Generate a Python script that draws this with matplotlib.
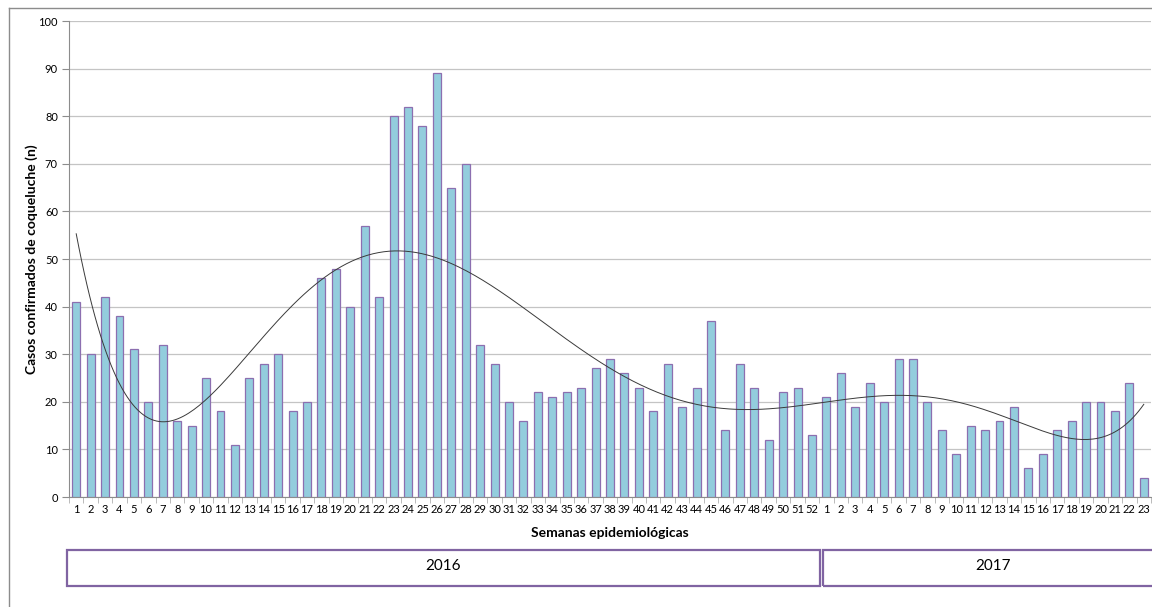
import numpy as np
import matplotlib
matplotlib.use('Agg')
from matplotlib import pyplot as plt
from matplotlib.lines import Line2D
from matplotlib.patches import Rectangle

plt.rcParams['font.family'] = ['Lato', 'DejaVu Sans']

# casos por semana epidemiológica: 2016 (1-52) y 2017 (1-23)
casos_2016 = [41, 30, 42, 38, 31, 20, 32, 16, 15, 25, 18, 11, 25, 28, 30, 18, 20,
              46, 48, 40, 57, 42, 80, 82, 78, 89, 65, 70, 32, 28, 20, 16, 22, 21,
              22, 23, 27, 29, 26, 23, 18, 28, 19, 23, 37, 14, 28, 23, 12, 22, 23, 13]
casos_2017 = [21, 26, 19, 24, 20, 29, 29, 20, 14, 9, 15, 14, 16, 19, 6, 9, 14,
              16, 20, 20, 18, 24, 4]
semanas_2016 = list(range(1, 53))
semanas_2017 = list(range(1, 24))
anios = ['2016', '2017']

casos = casos_2016 + casos_2017
etiquetas = [str(s) for s in semanas_2016 + semanas_2017]
x = np.arange(1, len(casos) + 1)

fig = plt.figure(figsize=(11.52, 6.07), dpi=100)
ax = fig.add_axes([69 / 1152, 110 / 607, 1082 / 1152, 476 / 607])

ax.bar(x, casos, width=0.55, color='#93cddd', edgecolor='#8c6fb0', linewidth=0.9, zorder=3)

# linea de tendencia polinómica (orden 6) como en Excel
coef = np.polyfit(x, casos, 6)
xs = np.linspace(1, len(casos), 400)
ax.plot(xs, np.polyval(coef, xs), color='#3a3a3a', linewidth=0.7, zorder=4)

ax.set_xlim(0.5, len(casos) + 0.5)
ax.set_ylim(0, 100)
ax.set_yticks(range(0, 101, 10))
ax.yaxis.grid(True, color='#c4c4c4', linewidth=0.9, zorder=0)
ax.tick_params(axis='y', labelsize=8, length=5, color='#8c8c8c', pad=3)

ax.set_xticks(x)
ax.set_xticklabels(etiquetas, fontsize=8)
ax.set_xticks(np.arange(0.5, len(casos) + 1, 1), minor=True)
ax.tick_params(axis='x', which='major', length=0, pad=5)
ax.tick_params(axis='x', which='minor', length=4, color='#b0b0b0')

for s in ['top', 'right']:
    ax.spines[s].set_visible(False)
ax.spines['left'].set_color('#8c8c8c')
ax.spines['bottom'].set_color('#8c8c8c')

ax.set_ylabel('Casos confirmados de coqueluche (n)', fontsize=10, fontweight='bold', labelpad=0)
fig.text(610 / 1152, 1 - 533 / 607, 'Semanas epidemiológicas', fontsize=10, fontweight='bold',
         ha='center', va='center')

# cajas de los años
cajas = [(67, 820), (823, 1163)]
for (x0, x1), anio in zip(cajas, anios):
    r = Rectangle((x0 / 1152, 1 - 586 / 607), (x1 - x0) / 1152, 36 / 607, transform=fig.transFigure,
                  fill=False, edgecolor='#8064a2', linewidth=1.6, clip_on=False)
    fig.add_artist(r)
    fig.text((x0 + x1) / 2 / 1152, 1 - 566 / 607, anio, fontsize=11, ha='center', va='center')

# borde exterior
fig.add_artist(Line2D([9 / 1152, 9 / 1152], [0, 1 - 8 / 607], transform=fig.transFigure,
                      color='#8c8c8c', linewidth=1))
fig.add_artist(Line2D([9 / 1152, 1], [1 - 8 / 607, 1 - 8 / 607], transform=fig.transFigure,
                      color='#8c8c8c', linewidth=1))

fig.savefig('out.png', dpi=100)
